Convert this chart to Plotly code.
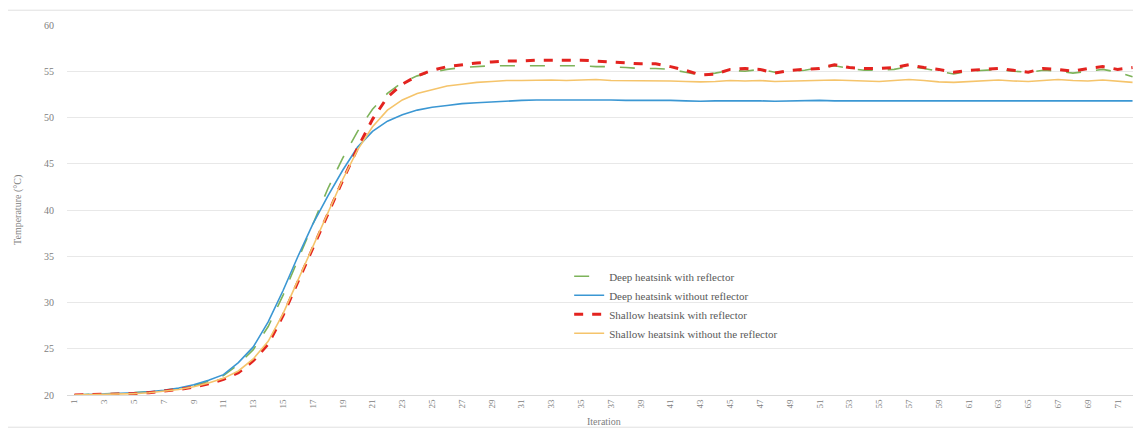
import plotly.graph_objects as go

iterations = list(range(1, 73))
tick_labels = [str(v) for v in range(1, 72, 2)]

deep_with = [20.0, 20.05, 20.1, 20.15, 20.25, 20.35, 20.5, 20.7, 21.0, 21.5,
             22.1, 23.3, 24.9, 27.4, 30.8, 34.7, 38.6, 42.3, 45.6, 48.5,
             50.9, 52.6, 53.8, 54.5, 54.9, 55.2, 55.4, 55.5, 55.6, 55.6,
             55.6, 55.6, 55.6, 55.6, 55.6, 55.5, 55.5, 55.4, 55.3, 55.3,
             55.2, 54.9, 54.6, 54.8, 55.1, 55.0, 55.2, 54.9, 55.0, 55.1,
             55.4, 55.6, 55.3, 55.1, 55.1, 55.2, 55.5, 55.3, 55.0, 54.7,
             55.0, 55.1, 55.2, 55.0, 54.9, 55.1, 55.0, 54.8, 55.0, 55.2, 54.9, 54.4]

deep_without = [20.0, 20.05, 20.1, 20.15, 20.25, 20.35, 20.5, 20.75, 21.1, 21.6,
                22.2, 23.5, 25.2, 27.9, 31.3, 35.0, 38.5, 41.5, 44.3, 46.8,
                48.5, 49.6, 50.3, 50.8, 51.1, 51.3, 51.5, 51.6, 51.7, 51.8,
                51.85, 51.9, 51.9, 51.95, 51.95, 51.9, 51.9, 51.85, 51.85, 51.9,
                51.85, 51.8, 51.75, 51.8, 51.8, 51.85, 51.8, 51.75, 51.8, 51.8,
                51.85, 51.8, 51.8, 51.85, 51.8, 51.8, 51.85, 51.85, 51.8, 51.8,
                51.85, 51.8, 51.8, 51.85, 51.8, 51.8, 51.85, 51.8, 51.8, 51.85, 51.8, 51.8]

shallow_with = [20.0, 20.02, 20.05, 20.1, 20.15, 20.25, 20.4, 20.6, 20.85, 21.2,
                21.7, 22.4, 23.7, 25.5, 28.6, 32.3, 36.0, 39.7, 43.2, 46.7,
                49.8, 52.2, 53.6, 54.5, 55.1, 55.5, 55.7, 55.9, 56.0, 56.1,
                56.1, 56.2, 56.2, 56.2, 56.2, 56.1, 56.0, 55.9, 55.8, 55.8,
                55.5, 55.1, 54.6, 54.7, 55.2, 55.3, 55.2, 54.8, 55.1, 55.2,
                55.3, 55.7, 55.4, 55.3, 55.3, 55.4, 55.7, 55.4, 55.2, 54.9,
                55.1, 55.2, 55.3, 55.1, 54.9, 55.3, 55.2, 55.0, 55.3, 55.5, 55.2, 55.4]

shallow_without = [20.0, 20.02, 20.05, 20.1, 20.15, 20.25, 20.4, 20.6, 20.9, 21.3,
                   21.8, 22.6, 23.9, 25.8, 28.8, 32.4, 36.1, 39.8, 43.3, 46.5,
                   49.0, 50.8, 51.9, 52.6, 53.0, 53.4, 53.6, 53.8, 53.9, 54.0,
                   54.0, 54.05, 54.05, 54.0, 54.05, 54.1, 54.0, 54.0, 54.0, 54.0,
                   53.95, 53.9, 53.85, 53.9, 54.0, 53.95, 54.0, 53.9, 53.95, 54.0,
                   54.0, 54.05, 54.0, 53.95, 53.9, 54.0, 54.1, 54.0, 53.85, 53.8,
                   53.9, 54.0, 54.05, 53.95, 53.9, 54.0, 54.1, 54.0, 53.95, 54.05, 53.9, 53.8]

series_names = ["Deep heatsink with reflector", "Deep heatsink without reflector",
                "Shallow heatsink with reflector", "Shallow heatsink without the reflector"]

FONT = "Liberation Serif, Times New Roman, serif"

fig = go.Figure()
fig.add_trace(go.Scatter(x=iterations, y=deep_with, mode="lines", name=series_names[0],
                         line=dict(color="#7DB35A", width=1.6, dash="longdash")))
fig.add_trace(go.Scatter(x=iterations, y=deep_without, mode="lines", name=series_names[1],
                         line=dict(color="#3B97D3", width=1.6)))
fig.add_trace(go.Scatter(x=iterations, y=shallow_with, mode="lines", name=series_names[2],
                         line=dict(color="#E3231F", width=3, dash="dash")))
fig.add_trace(go.Scatter(x=iterations, y=shallow_without, mode="lines", name=series_names[3],
                         line=dict(color="#F5C46B", width=1.6)))

fig.update_layout(
    width=1141, height=430,
    margin=dict(l=59, r=9, t=17, b=43),
    paper_bgcolor="white", plot_bgcolor="white",
    font=dict(family=FONT, color="#7F7F7F", size=10),
    showlegend=True,
    legend=dict(x=0.468, y=0.36, xanchor="left", yanchor="top",
                bgcolor="rgba(0,0,0,0)", font=dict(family=FONT, size=11, color="#595959"),
                tracegroupgap=0, itemwidth=30),
    xaxis=dict(range=[0.5, 72.5], tickmode="array",
               tickvals=[int(t) for t in tick_labels], ticktext=tick_labels,
               tickangle=-90, showgrid=False, zeroline=False,
               showline=True, linecolor="#D9D9D9", linewidth=1,
               tickfont=dict(family=FONT, size=9, color="#808080")),
    yaxis=dict(range=[20, 60], tickvals=[20, 25, 30, 35, 40, 45, 50, 55, 60],
               showgrid=True, gridcolor="#E8E8E8", gridwidth=1, zeroline=False,
               showline=False, ticklabelstandoff=12,
               tickfont=dict(family=FONT, size=10, color="#808080")),
)

fig.add_annotation(text="Iteration", xref="paper", yref="paper", x=0.5, y=-0.072,
                   xanchor="center", yanchor="middle", showarrow=False,
                   font=dict(family=FONT, size=10, color="#808080"))
fig.add_annotation(text="Temperature (°C)", xref="paper", yref="paper", x=-0.0457, y=0.5,
                   xanchor="center", yanchor="middle", showarrow=False, textangle=-90,
                   font=dict(family=FONT, size=10, color="#808080"))
fig.add_shape(type="rect", xref="paper", yref="paper", x0=-0.058, x1=1.0, y0=-0.087, y1=1.04,
              line=dict(color="#E0E0E0", width=1), layer="below")

fig.write_html("out.html")
